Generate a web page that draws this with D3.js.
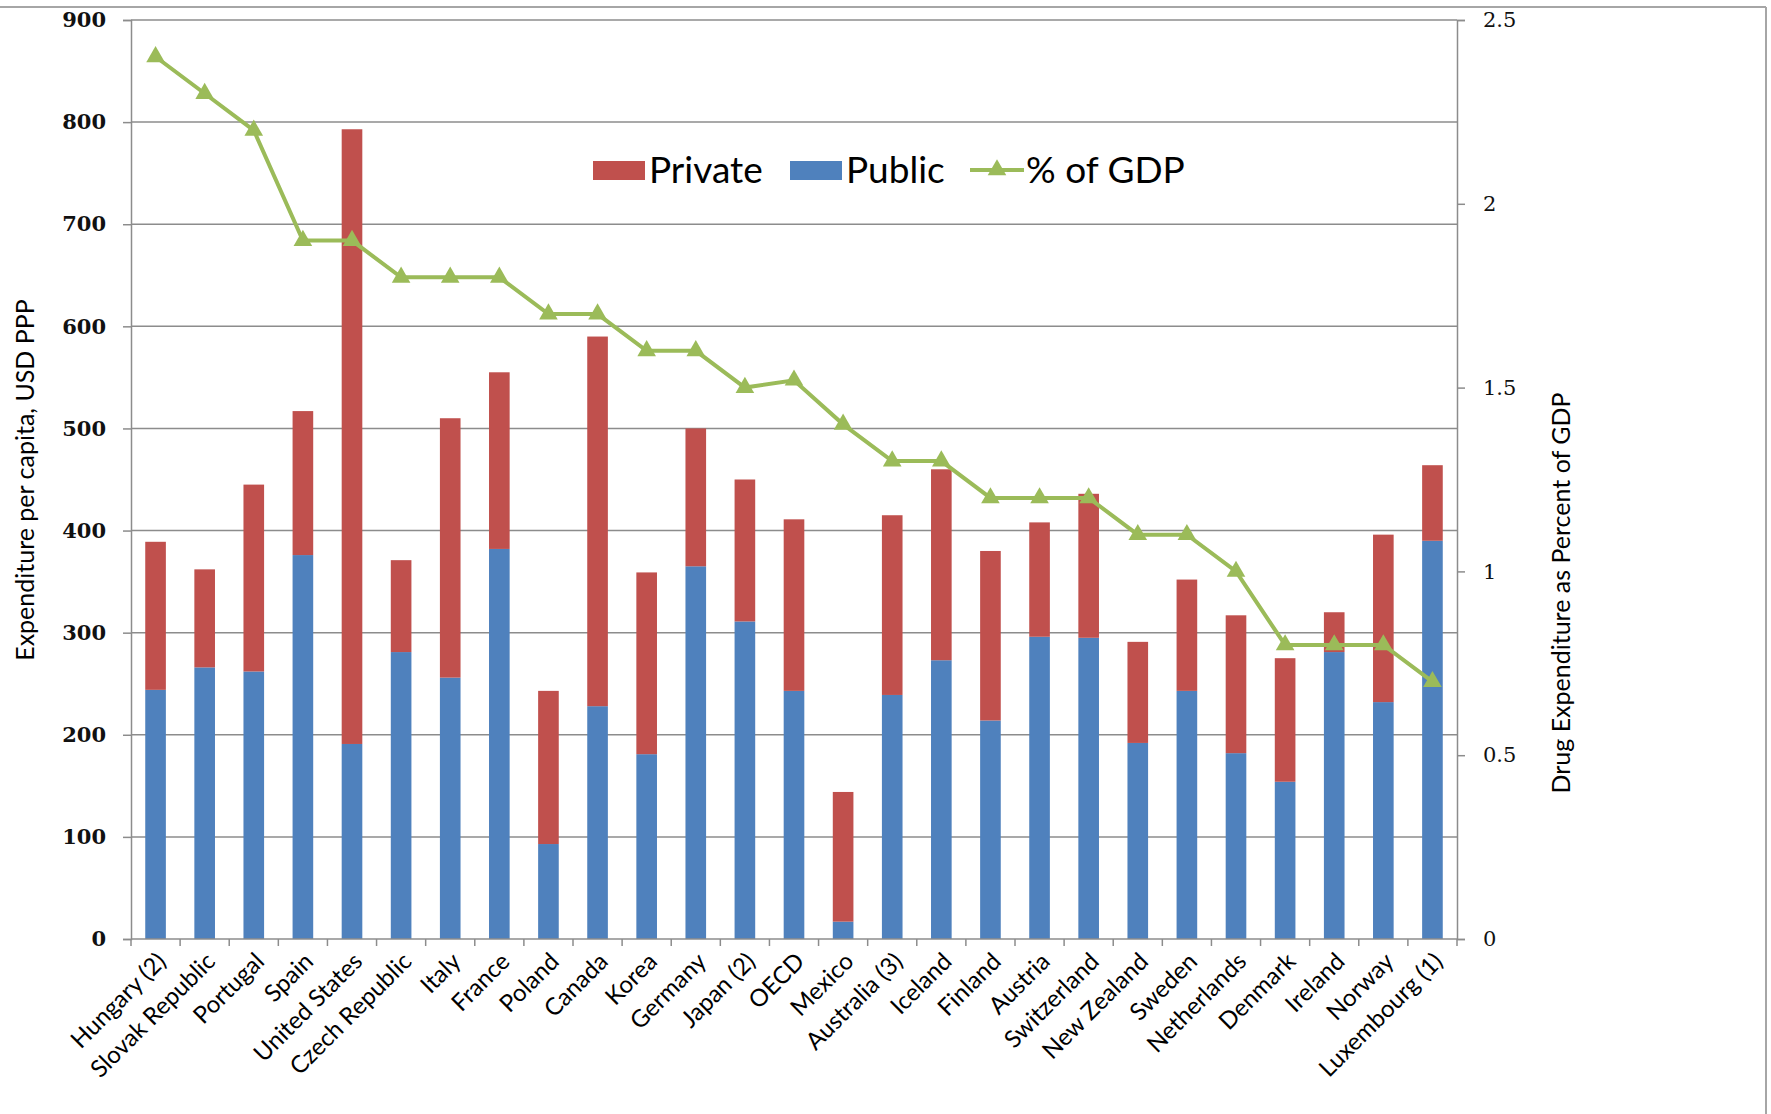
<!DOCTYPE html>
<html>
<head>
<meta charset="utf-8">
<script src="https://cdn.jsdelivr.net/npm/d3@7"></script>
<style>
  body { margin: 0; background: #fff; }
  svg { display: block; }
</style>
</head>
<body>
<div id="chart"></div>
<script>
const countries = ["Hungary (2)", "Slovak Republic", "Portugal", "Spain", "United States", "Czech Republic",
    "Italy", "France", "Poland", "Canada", "Korea", "Germany", "Japan (2)", "OECD", "Mexico",
    "Australia (3)", "Iceland", "Finland", "Austria", "Switzerland", "New Zealand", "Sweden",
    "Netherlands", "Denmark", "Ireland", "Norway", "Luxembourg (1)"];
const publicSpend = [244, 266, 262, 376, 191, 281, 256, 382, 93, 228, 181, 365, 311, 243, 17,
    239, 273, 214, 296, 295, 192, 243, 182, 154, 281, 232, 390];
const privateSpend = [145, 96, 183, 141, 602, 90, 254, 173, 150, 362, 178, 135, 139, 168, 127,
    176, 187, 166, 112, 141, 99, 109, 135, 121, 39, 164, 74];
const gdpShare = [2.4, 2.3, 2.2, 1.9, 1.9, 1.8, 1.8, 1.8, 1.7, 1.7, 1.6, 1.6, 1.5, 1.52, 1.4,
    1.3, 1.3, 1.2, 1.2, 1.2, 1.1, 1.1, 1.0, 0.8, 0.8, 0.8, 0.7];
const leftTicks = [0, 100, 200, 300, 400, 500, 600, 700, 800, 900];
const rightTicks = [0, 0.5, 1, 1.5, 2, 2.5];

const W = 1771, H = 1114;
const margin = { top: 20, right: 314, bottom: 175, left: 131 };
const width = W - margin.left - margin.right;
const height = H - margin.top - margin.bottom;

const colPrivate = "#c0504d", colPublic = "#4f81bd", colLine = "#9bbb59";
const gridCol = "#8c8c8c";
const sans = "Lato, 'Open Sans', sans-serif";
const serif = "'DejaVu Serif', 'Liberation Serif', serif";

const svg = d3.select("#chart").append("svg")
    .attr("width", W).attr("height", H);

// outer frame bits
svg.append("line").attr("x1", 0).attr("x2", 1766).attr("y1", 7).attr("y2", 7)
    .attr("stroke", "#a6a6a6").attr("stroke-width", 2);
svg.append("line").attr("x1", 1766).attr("x2", 1766).attr("y1", 7).attr("y2", H)
    .attr("stroke", "#a6a6a6").attr("stroke-width", 2);

const g = svg.append("g").attr("transform", `translate(${margin.left},${margin.top})`);

const rows = countries.map((c, i) => ({ country: c, Public: publicSpend[i], Private: privateSpend[i], gdp: gdpShare[i] }));

const x = d3.scaleBand().domain(countries).range([0, width]).paddingInner(0.58).paddingOuter(0.29);
const y = d3.scaleLinear().domain([0, 900]).range([height, 0]);
const y2 = d3.scaleLinear().domain([0, 2.5]).range([height, 0]);

// gridlines
g.selectAll(".grid").data(leftTicks.filter(d => d > 0)).enter().append("line")
    .attr("x1", 0).attr("x2", width)
    .attr("y1", d => y(d)).attr("y2", d => y(d))
    .attr("stroke", gridCol).attr("stroke-width", 1.5);

// stacked bars
const stack = d3.stack().keys(["Public", "Private"])(rows);
const colors = { Public: colPublic, Private: colPrivate };
g.selectAll(".series").data(stack).enter().append("g")
    .attr("fill", d => colors[d.key])
    .selectAll("rect").data(d => d).enter().append("rect")
    .attr("x", d => x(d.data.country))
    .attr("width", x.bandwidth())
    .attr("y", d => y(d[1]))
    .attr("height", d => y(d[0]) - y(d[1]));

// left axis
const ax = g.append("g")
    .call(d3.axisLeft(y).tickValues(leftTicks).tickSize(8).tickPadding(17).tickFormat(d3.format("d")));
ax.selectAll("text").style("font-family", serif).style("font-size", "21px")
    .style("font-weight", "bold").attr("fill", "#111");

// right axis
const ax2 = g.append("g").attr("transform", `translate(${width},0)`)
    .call(d3.axisRight(y2).tickValues(rightTicks).tickSize(8).tickPadding(18).tickFormat(d => d));
ax2.selectAll("text").style("font-family", serif).style("font-size", "21px").attr("fill", "#111");

// bottom axis with ticks at band edges
const xa = g.append("g").attr("transform", `translate(0,${height})`);
xa.append("line").attr("x1", 0).attr("x2", width).attr("stroke", gridCol).attr("stroke-width", 1.5);
const edges = countries.map(c => x(c) - x.step() * x.paddingInner() / 2).concat([width]);
xa.selectAll(".xt").data(edges).enter().append("line")
    .attr("x1", d => d).attr("x2", d => d).attr("y1", 0).attr("y2", 7)
    .attr("stroke", gridCol).attr("stroke-width", 1.5);
xa.selectAll(".xl").data(countries).enter().append("text")
    .attr("transform", d => `translate(${x(d) + x.bandwidth() / 2 + 6},${18}) rotate(-45)`)
    .attr("text-anchor", "end")
    .attr("dy", "0.35em")
    .style("font-family", sans).style("font-size", "24px")
    .text(d => d);

[ax, ax2].forEach(a => {
    a.selectAll(".domain").attr("stroke", gridCol).attr("stroke-width", 1.5);
    a.selectAll(".tick line").attr("stroke", gridCol).attr("stroke-width", 1.5);
});

// GDP line
const line = d3.line().x(d => x(d.country) + x.bandwidth() / 2).y(d => y2(d.gdp));
g.append("path").datum(rows).attr("d", line)
    .attr("fill", "none").attr("stroke", colLine).attr("stroke-width", 4);
const tri = d3.symbol().type(d3.symbolTriangle).size(150);
g.selectAll(".pt").data(rows).enter().append("path")
    .attr("d", tri)
    .attr("transform", d => `translate(${x(d.country) + x.bandwidth() / 2},${y2(d.gdp)})`)
    .attr("fill", colLine);

// axis titles
svg.append("text")
    .attr("transform", `translate(34,480) rotate(-90)`)
    .attr("text-anchor", "middle")
    .style("font-family", sans).style("font-size", "25px")
    .text("Expenditure per capita, USD PPP");
svg.append("text")
    .attr("transform", `translate(1570,593) rotate(-90)`)
    .attr("text-anchor", "middle")
    .style("font-family", sans).style("font-size", "25px")
    .text("Drug Expenditure as Percent of GDP");

// legend
const lg = svg.append("g").attr("transform", "translate(593,170)");
const legendItems = [
    { label: "Private", color: colPrivate, type: "rect", x: 0 },
    { label: "Public", color: colPublic, type: "rect", x: 197 },
    { label: "% of GDP", color: colLine, type: "line", x: 377 }
];
legendItems.forEach(it => {
    const li = lg.append("g").attr("transform", `translate(${it.x},0)`);
    if (it.type === "rect") {
        li.append("rect").attr("x", 0).attr("y", -9).attr("width", 52).attr("height", 19).attr("fill", it.color);
    } else {
        li.append("line").attr("x1", 0).attr("x2", 54).attr("y1", 0).attr("y2", 0)
            .attr("stroke", it.color).attr("stroke-width", 4);
        li.append("path").attr("d", tri).attr("transform", "translate(27,0)").attr("fill", it.color);
    }
    li.append("text").attr("x", 56).attr("y", 0).attr("dy", "0.36em")
        .style("font-family", sans).style("font-size", "37px")
        .text(it.label);
});
</script>
</body>
</html>
